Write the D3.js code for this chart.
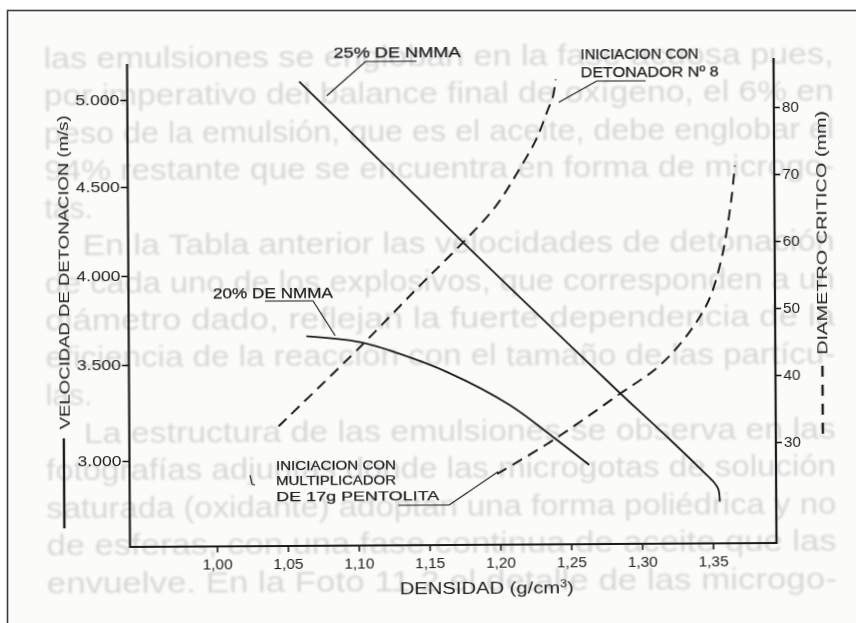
<!DOCTYPE html>
<html>
<head>
<meta charset="utf-8">
<script src="https://cdn.jsdelivr.net/npm/d3@7"></script>
<style>
  html, body { margin: 0; padding: 0; background: #ffffff; }
  svg { display: block; }
</style>
</head>
<body>
<svg id="chart" width="856" height="623"></svg>
<script>
// ---- Ejes: densidad (g/cm3), velocidad de detonación (m/s), diámetro crítico (mm)
const densityTicks  = [1.00, 1.05, 1.10, 1.15, 1.20, 1.25, 1.30, 1.35];
const velocityTicks = [3000, 3500, 4000, 4500, 5000];
const diameterTicks = [30, 40, 50, 60, 70, 80];

// ---- Velocidad de detonación (eje izquierdo, línea continua)
const nmma25Density  = [1.060, 1.115, 1.174, 1.228, 1.284, 1.320, 1.347, 1.351, 1.354, 1.355];
const nmma25Velocity = [5100, 4655, 4185, 3765, 3345, 3095, 2900, 2870, 2835, 2770];

const nmma20Density  = [1.064, 1.102, 1.129, 1.164, 1.207, 1.237, 1.263];
const nmma20Velocity = [3655, 3620, 3555, 3450, 3280, 3115, 2965];

// ---- Diámetro crítico (eje derecho, línea de trazos)
const detonatorDensity  = [1.044, 1.102, 1.143, 1.175, 1.198, 1.214, 1.227, 1.235, 1.239, 1.241];
const detonatorDiameter = [32.8, 44.6, 53.4, 60.1, 65.4, 70.6, 75.4, 79.6, 81.8, 84.3];

const pentoliteDensity  = [1.198, 1.237, 1.284, 1.313, 1.334, 1.348, 1.357, 1.362, 1.365, 1.367];
const pentoliteDiameter = [25.5, 30.4, 37.2, 41.5, 46.4, 51.2, 57.2, 62.8, 67.2, 71.3];

// ---- Texto del libro que se transparenta en la hoja
const pageLines = [
  "las emulsiones se engloban en la fase acuosa pues,",
  "por imperativo del balance final de oxígeno, el 6% en",
  "peso de la emulsión, que es el aceite, debe englobar el",
  "94% restante que se encuentra en forma de microgo-",
  "tas.",
  "En la Tabla anterior las velocidades de detonación",
  "de cada uno de los explosivos, que corresponden a un",
  "diámetro dado, reflejan la fuerte dependencia de la",
  "eficiencia de la reacción con el tamaño de las partícu-",
  "las.",
  "La estructura de las emulsiones se observa en las",
  "fotografías adjuntas donde las microgotas de solución",
  "saturada (oxidante) adoptan una forma poliédrica y no",
  "de esferas, con una fase continua de aceite que las",
  "envuelve. En la Foto 11.2 el detalle de las microgo-"
];
const pageIndented = [5, 10];
const pageShort = [4, 9];

// ---------------------------------------------------------------
const W = 856, H = 623;
const FONT = "'Liberation Sans', Arial, Helvetica, sans-serif";
const INK = "#1d1d1d";

const frame = { left: 128.5, right: 775, bottom: 545, topLeft: 62, topRight: 60 };

const x = d3.scaleLinear().domain([1.00, 1.35]).range([215.5, 711.5]);
// the printed velocity scale is not evenly spaced, so map each tick
const yVel = d3.scaleLinear().domain(velocityTicks).range([459, 363, 274, 185, 98]);
const yDia = d3.scaleLinear().domain([30, 80]).range([444, 109]);

const svg = d3.select("#chart");

// page and border
svg.append("rect").attr("width", W).attr("height", H).attr("fill", "#ffffff");
svg.append("rect")
  .attr("x", 7.5).attr("y", 10.5).attr("width", W + 20).attr("height", H + 20)
  .attr("fill", "#fbfbf9").attr("stroke", "#3c3c3c").attr("stroke-width", 1.6);

const defs = svg.append("defs");
defs.append("filter").attr("id", "soft")
  .append("feGaussianBlur").attr("stdDeviation", 0.9);
defs.append("filter").attr("id", "ink")
  .append("feGaussianBlur").attr("stdDeviation", 0.35);

// the scanned sheet is slightly turned
const sheet = svg.append("g").attr("transform", "rotate(-0.35, 450, 300)");

// show-through text from the facing page
const page = sheet.append("g").attr("filter", "url(#soft)")
  .attr("font-family", FONT).attr("font-size", 30).attr("fill", "#d7d7d7");
pageLines.forEach((t, i) => {
  const baseline = 65.5 + i * 37.5;
  const indent = pageIndented.includes(i);
  const short = pageShort.includes(i);
  const el = page.append("text")
    .attr("x", indent ? 83 : 45).attr("y", baseline).text(t);
  if (!short) el.attr("textLength", indent ? 752 : 790).attr("lengthAdjust", "spacingAndGlyphs");
});

const chart = sheet.append("g").attr("filter", "url(#ink)");

// axes frame (open at the top)
chart.append("path")
  .attr("d", `M${frame.left},${frame.topLeft}V${frame.bottom}H${frame.right}V${frame.topRight}`)
  .attr("fill", "none").attr("stroke", INK).attr("stroke-width", 2.2);

const fmt = d3.formatLocale({ decimal: ",", thousands: ".", grouping: [3], currency: ["", ""] });
const fmtVel = fmt.format(",");
const fmtDen = fmt.format(".2f");

function styleAxis(g, size, len) {
  g.select(".domain").remove();
  g.attr("font-family", FONT).attr("font-size", size);
  g.selectAll(".tick line").attr("stroke", INK).attr("stroke-width", 1.6);
  const t = g.selectAll(".tick text").attr("fill", INK);
  if (len) t.attr("textLength", len).attr("lengthAdjust", "spacingAndGlyphs");
}

const axL = chart.append("g").attr("transform", `translate(${frame.left},0)`)
  .call(d3.axisLeft(yVel).tickValues(velocityTicks).tickFormat(fmtVel)
    .tickSize(7).tickPadding(1).tickSizeOuter(0));
styleAxis(axL, 14, 44);

const axB = chart.append("g").attr("transform", `translate(0,${frame.bottom})`)
  .call(d3.axisBottom(x).tickValues(densityTicks).tickFormat(fmtDen)
    .tickSize(6).tickPadding(7).tickSizeOuter(0));
styleAxis(axB, 14, 30);

const axR = chart.append("g").attr("transform", `translate(${frame.right},0)`)
  .call(d3.axisRight(yDia).tickValues(diameterTicks)
    .tickSize(6).tickPadding(2).tickSizeOuter(0));
styleAxis(axR, 15, 17);

// curves
const zip = (a, b) => a.map((v, i) => [v, b[i]]);
const smooth = d3.curveCatmullRom.alpha(0.5);
const velLine = d3.line().x(d => x(d[0])).y(d => yVel(d[1])).curve(smooth);
const diaLine = d3.line().x(d => x(d[0])).y(d => yDia(d[1])).curve(smooth);

chart.append("path").datum(zip(nmma25Density, nmma25Velocity))
  .attr("d", velLine).attr("fill", "none").attr("stroke", INK).attr("stroke-width", 1.8);
chart.append("path").datum(zip(nmma20Density, nmma20Velocity))
  .attr("d", velLine).attr("fill", "none").attr("stroke", INK).attr("stroke-width", 1.8);
chart.append("path").datum(zip(detonatorDensity, detonatorDiameter))
  .attr("d", diaLine).attr("fill", "none").attr("stroke", INK).attr("stroke-width", 2)
  .attr("stroke-dasharray", "11,7");
chart.append("path").datum(zip(pentoliteDensity, pentoliteDiameter))
  .attr("d", diaLine).attr("fill", "none").attr("stroke", INK).attr("stroke-width", 2)
  .attr("stroke-dasharray", "11,7");

// axis titles
chart.append("text")
  .attr("transform", "translate(63,427) rotate(-90)")
  .attr("dominant-baseline", "central")
  .attr("font-family", FONT).attr("font-size", 15).attr("fill", INK)
  .attr("textLength", 314).attr("lengthAdjust", "spacingAndGlyphs")
  .text("VELOCIDAD DE DETONACION (m/s)");
chart.append("line").attr("x1", 63).attr("x2", 63).attr("y1", 436).attr("y2", 526)
  .attr("stroke", INK).attr("stroke-width", 2.4);

chart.append("text")
  .attr("transform", "translate(821,357) rotate(-90)")
  .attr("dominant-baseline", "central")
  .attr("font-family", FONT).attr("font-size", 15).attr("fill", INK)
  .attr("textLength", 244).attr("lengthAdjust", "spacingAndGlyphs")
  .text("DIAMETRO CRITICO (mm)");
chart.append("line").attr("x1", 822).attr("x2", 822).attr("y1", 368).attr("y2", 444)
  .attr("stroke", INK).attr("stroke-width", 2.4).attr("stroke-dasharray", "11,8");

const xt = chart.append("text")
  .attr("x", 398).attr("y", 594)
  .attr("font-family", FONT).attr("font-size", 16).attr("fill", INK)
  .attr("textLength", 174).attr("lengthAdjust", "spacingAndGlyphs");
xt.append("tspan").text("DENSIDAD (g/cm");
xt.append("tspan").attr("font-size", 10).attr("dy", -6).text("3");
xt.append("tspan").attr("dy", 6).text(")");

// curve labels with leader lines
const notes = [
  { lines: ["25% DE NMMA"], x: 335, y: [57], len: [127], size: 14,
    leader: [[418, 61], [367, 61], [328, 95]] },
  { lines: ["INICIACION CON", "DETONADOR Nº 8"], x: 582, y: [60, 78], len: [118, 138], size: 14,
    leader: [[647, 82], [598, 82], [560, 103]] },
  { lines: ["20% DE NMMA"], x: 213, y: [297], len: [120], size: 14,
    leader: [[265, 300], [313, 300], [335, 335]] },
  { lines: ["INICIACION CON", "MULTIPLICADOR", "DE 17g PENTOLITA"], x: 275, y: [469, 484, 500],
    len: [120, 120, 163], size: 13,
    leader: [[397, 505], [448, 505], [497, 472]] }
];
notes.forEach(n => {
  n.lines.forEach((t, i) => {
    chart.append("text").attr("x", n.x).attr("y", n.y[i])
      .attr("font-family", FONT).attr("font-size", n.size).attr("fill", INK)
      .attr("stroke", INK).attr("stroke-width", 0.25)
      .attr("textLength", n.len[i]).attr("lengthAdjust", "spacingAndGlyphs")
      .text(t);
  });
  chart.append("path").attr("d", d3.line()(n.leader))
    .attr("fill", "none").attr("stroke", INK).attr("stroke-width", 1.2);
});

// small pen mark beside the lower label
chart.append("path").attr("d", "M249,474 L251,483 L254,484")
  .attr("fill", "none").attr("stroke", "#333").attr("stroke-width", 1.3);
</script>
</body>
</html>
